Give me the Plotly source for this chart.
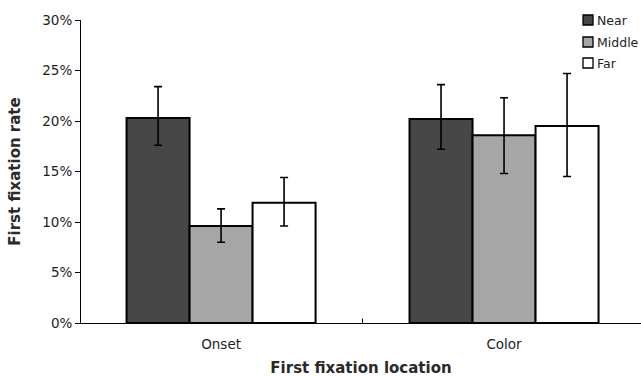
import plotly.graph_objects as go

categories = ["Onset", "Color"]
series_names = ["Near", "Middle", "Far"]
near_vals = [20.3, 20.2]
middle_vals = [9.6, 18.6]
far_vals = [11.9, 19.5]
near_err_plus = [3.1, 3.4]
near_err_minus = [2.7, 3.0]
middle_err_plus = [1.7, 3.7]
middle_err_minus = [1.6, 3.8]
far_err_plus = [2.5, 5.2]
far_err_minus = [2.3, 5.0]
y_tickvals = [0, 5, 10, 15, 20, 25, 30]
y_ticktext = ["0%", "5%", "10%", "15%", "20%", "25%", "30%"]

colors = ["#474747", "#a6a6a6", "#ffffff"]
vals = [near_vals, middle_vals, far_vals]
eplus = [near_err_plus, middle_err_plus, far_err_plus]
eminus = [near_err_minus, middle_err_minus, far_err_minus]

fig = go.Figure()
for name, v, c, ep, em in zip(series_names, vals, colors, eplus, eminus):
    fig.add_trace(go.Bar(
        x=[0, 1], y=v, name=name,
        marker=dict(color=c, line=dict(color="#000000", width=2)),
        error_y=dict(type="data", array=ep, arrayminus=em, symmetric=False,
                     color="#000000", thickness=1.6, width=4),
    ))

font = "DejaVu Sans, Verdana, sans-serif"
txt = "#1e1e1e"

# legend drawn as small boxes + labels at the top right
shapes = [dict(type="line", xref="x", yref="paper", x0=0.5, x1=0.5, y0=0, y1=0.015,
               line=dict(color="#000000", width=1))]
annotations = []
leg_x0 = (583 - 81) / 560.0
leg_w = 10 / 560.0
leg_centers = [20, 42, 63]
for name, c, yc in zip(series_names, colors, leg_centers):
    yp = (323 - yc) / 303.0
    hh = 5 / 303.0
    shapes.append(dict(type="rect", xref="paper", yref="paper",
                       x0=leg_x0, x1=leg_x0 + leg_w, y0=yp - hh, y1=yp + hh,
                       fillcolor=c, line=dict(color="#000000", width=1.3)))
    annotations.append(dict(xref="paper", yref="paper", x=leg_x0 + leg_w + 2 / 560.0, y=yp,
                            xanchor="left", yanchor="middle", text=name, showarrow=False,
                            font=dict(family=font, size=12.5, color=txt)))

fig.update_layout(
    width=641, height=377,
    margin=dict(l=81, r=0, t=20, b=54, autoexpand=False),
    paper_bgcolor="white", plot_bgcolor="white",
    barmode="group", bargap=0.332, bargroupgap=0,
    font=dict(family=font, size=13, color=txt),
    showlegend=False,
    xaxis=dict(range=[-0.495, 1.484], tickvals=[0, 1], ticktext=categories,
               showline=True, linecolor="#000000", linewidth=1,
               showgrid=False, ticks="", zeroline=False, ticklabelstandoff=9,
               tickfont=dict(size=13.5),
               title=dict(text="First fixation location",
                          font=dict(size=15, weight="bold", color="#2a2a2a"), standoff=11)),
    yaxis=dict(range=[0, 30], tickvals=y_tickvals, ticktext=y_ticktext,
               showline=True, linecolor="#000000", linewidth=1,
               showgrid=False, ticks="outside", ticklen=5, tickcolor="#000000",
               zeroline=False, tickfont=dict(size=13.5),
               title=dict(text="First fixation rate",
                          font=dict(size=15, weight="bold", color="#2a2a2a"), standoff=18)),
    shapes=shapes,
    annotations=annotations,
)
fig.write_html("out.html")
